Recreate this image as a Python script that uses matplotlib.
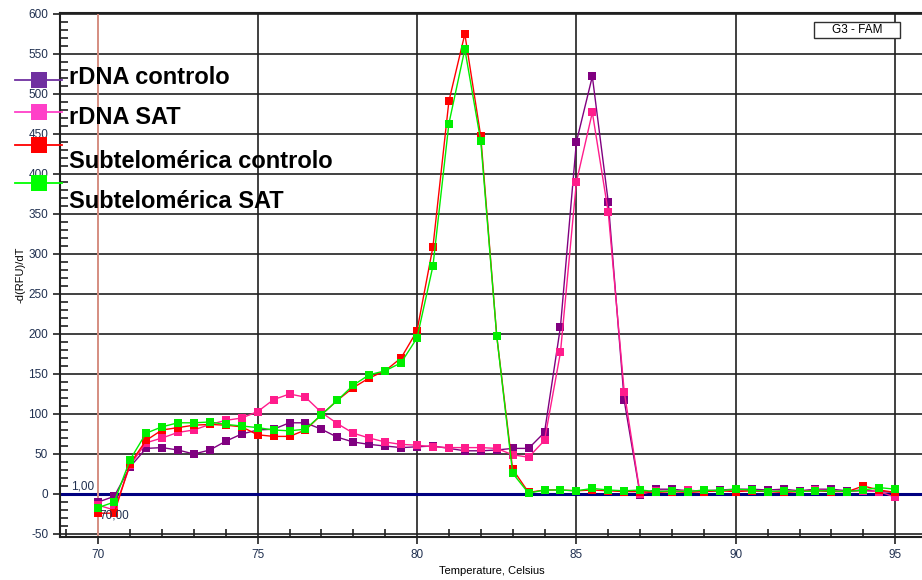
import numpy as np
import matplotlib
matplotlib.use("Agg")
import matplotlib.pyplot as plt
from matplotlib.lines import Line2D
from matplotlib.patches import Rectangle
from matplotlib.ticker import MultipleLocator

plt.rcParams['font.family'] = ['Liberation Sans', 'DejaVu Sans']
plt.rcParams['axes.unicode_minus'] = False

# temperature steps, 70 -> 95 C in 0.5 C
temps = [70 + 0.5 * i for i in range(51)]

rdna_controlo = [-10, -3, 34, 57, 58, 55, 50, 55, 66, 75,
                 80, 81, 89, 89, 81, 71, 65, 62, 60, 58,
                 59, 60, 57, 54, 54, 55, 57, 57, 77, 209,
                 440, 522, 365, 117, -1, 6, 6, 4, 4, 5,
                 6, 6, 5, 6, 4, 6, 6, 4, 5, 3, 2]
rdna_sat = [-14, -20, 36, 64, 70, 77, 80, 87, 92, 95,
            103, 118, 125, 121, 102, 88, 76, 70, 65, 62,
            61, 59, 58, 58, 58, 57, 49, 46, 67, 177,
            390, 477, 352, 128, 0, 4, 3, 5, 3, 4,
            5, 4, 3, 4, 3, 5, 4, 3, 4, 3, -4]
sub_controlo = [-24, -24, 38, 67, 80, 83, 86, 87, 86, 84,
                74, 72, 72, 80, 99, 117, 133, 145, 154, 170,
                204, 309, 491, 575, 447, 198, 31, 2, 5, 5,
                4, 5, 4, 3, 3, 2, 3, 2, 3, 4,
                3, 4, 3, 2, 3, 4, 3, 3, 10, 5, 2]
sub_sat = [-17, -10, 43, 76, 84, 89, 89, 90, 87, 85,
           83, 80, 79, 81, 99, 117, 136, 149, 154, 164,
           195, 285, 463, 556, 441, 198, 26, 1, 5, 5,
           4, 7, 5, 4, 5, 3, 4, 3, 5, 4,
           6, 5, 3, 4, 3, 4, 4, 3, 5, 8, 6]

series_names = ["rDNA controlo", "rDNA SAT",
                "Subtelomérica controlo", "Subtelomérica SAT"]
series_values = [rdna_controlo, rdna_sat, sub_controlo, sub_sat]
series_colors = ["#800080", "#FF1C8C", "#FF0000", "#00EE00"]
legend_colors = ["#7030A0", "#FF40C8", "#FF0000", "#00FF00"]

fig = plt.figure(figsize=(9.22, 5.8), dpi=100)
ax = fig.add_axes([60 / 922, 43 / 580, 1 - 60 / 922 + 0.002, (537 - 13) / 580])

for vals, col in zip(series_values, series_colors):
    ax.plot(temps, vals, color=col, lw=1.0, marker='s', markersize=5.5,
            markeredgewidth=0, zorder=3)

ax.set_xlim(68.8, 95.9)
ax.set_ylim(-53.75, 601.25)

ax.xaxis.set_major_locator(MultipleLocator(5))
ax.xaxis.set_minor_locator(MultipleLocator(1))
ax.yaxis.set_major_locator(MultipleLocator(50))
ax.yaxis.set_minor_locator(MultipleLocator(10))
ax.grid(True, which='major', color='#202020', lw=1.2, zorder=1)
ax.tick_params(which='major', direction='out', length=5, width=1.2,
               labelsize=8.5, labelcolor='#203050', color='#202020')
ax.tick_params(which='minor', direction='in', length=6, width=1.2,
               color='#202020')
for s in ax.spines.values():
    s.set_color('#202020')
    s.set_linewidth(1.5)

ax.axhline(0, color='#000080', lw=2.2, zorder=2)
ax.axvline(70, color='#F4A090', lw=1.2, zorder=2)

ax.text(69.15, 6, "1,00", fontsize=8.5, color='#203050', zorder=4)
ax.text(70.05, -30, "70,00", fontsize=8.5, color='#203050', zorder=4)

# channel tag box, top right
fig.add_artist(Rectangle((814 / 922, 1 - 38 / 580), 86 / 922, 16 / 580,
                         transform=fig.transFigure, fc='white',
                         ec='#303030', lw=1, zorder=5))
fig.text(857 / 922, 1 - 30 / 580, "G3 - FAM", fontsize=8.5, ha='center',
         va='center', zorder=6)

ax.set_ylabel("-d(RFU)/dT", fontsize=8, labelpad=2)
ax.set_xlabel("Temperature, Celsius", fontsize=8, labelpad=4)

# hand-placed legend, partly over the axis like the source
marker_y = [80, 112, 145, 183]
text_y = [78, 118, 161, 201]
for name, col, my, ty in zip(series_names, legend_colors, marker_y, text_y):
    yf = 1 - my / 580
    fig.add_artist(Line2D([15 / 922, 62 / 922], [yf, yf], color=col, lw=1.3,
                          transform=fig.transFigure, zorder=6))
    fig.add_artist(Line2D([39 / 922], [yf], color=col, marker='s',
                          markersize=12, markeredgewidth=0,
                          transform=fig.transFigure, zorder=6))
    fig.text(69 / 922, 1 - ty / 580, name, fontsize=17, fontweight='bold',
             va='center', ha='left', zorder=7)

fig.savefig("out.png", dpi=100)
